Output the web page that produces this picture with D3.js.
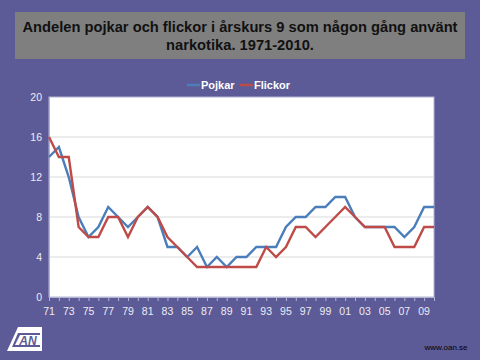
<!DOCTYPE html>
<html>
<head>
<meta charset="utf-8">
<script src="https://cdn.jsdelivr.net/npm/d3@7/dist/d3.min.js"></script>
<style>
  html, body { margin: 0; padding: 0; background: #5d5b97; }
  svg { display: block; }
</style>
</head>
<body>
<svg id="chart" width="480" height="360"></svg>
<script>
const titleLines = ["Andelen pojkar och flickor i årskurs 9 som någon gång använt", "narkotika. 1971-2010."];
const years = [1971,1972,1973,1974,1975,1976,1977,1978,1979,1980,1981,1982,1983,1984,1985,1986,1987,1988,1989,1990,
               1991,1992,1993,1994,1995,1996,1997,1998,1999,2000,2001,2002,2003,2004,2005,2006,2007,2008,2009,2010];
const pojkar = [14,15,12,8,6,7,9,8,7,8,9,8,5,5,4,5,3,4,3,4,4,5,5,5,7,8,8,9,9,10,10,8,7,7,7,7,6,7,9,9];
const flickor = [16,14,14,7,6,6,8,8,6,8,9,8,6,5,4,3,3,3,3,3,3,3,5,4,5,7,7,6,7,8,9,8,7,7,7,5,5,5,7,7];
const xTickYears = [1971,1973,1975,1977,1979,1981,1983,1985,1987,1989,1991,1993,1995,1997,1999,2001,2003,2005,2007,2009];
const xTickLabels = ["71","73","75","77","79","81","83","85","87","89","91","93","95","97","99","01","03","05","07","09"];
const yTicks = [0,4,8,12,16,20];
const seriesNames = ["Pojkar","Flickor"];
const seriesColors = ["#4a7ebb","#be4b48"];

const svg = d3.select("#chart");
const font = "'Liberation Sans', Arial, sans-serif";

// Title box
svg.append("rect").attr("x",15).attr("y",12).attr("width",450).attr("height",47).attr("fill","#7f7f7f");
const titleY = [32, 50];
titleLines.forEach((t,i) => {
  svg.append("text").attr("x",240).attr("y",titleY[i]).attr("text-anchor","middle")
    .attr("font-family",font).attr("font-weight","bold").attr("font-size",14.7).attr("fill","#111")
    .text(t);
});

const L = 49, R = 434, T = 97, B = 297;
const x = d3.scaleLinear().domain([1971,2010]).range([L,R]);
const y = d3.scaleLinear().domain([0,20]).range([B,T]);

// Plot area
svg.append("rect").attr("x",L).attr("y",T).attr("width",R-L).attr("height",B-T)
  .attr("fill","#fff").attr("stroke","#b4b4d4").attr("stroke-width",1);

// Gridlines
svg.append("g").selectAll("line").data(yTicks.filter(d => d>0 && d<20)).join("line")
  .attr("x1",L).attr("x2",R).attr("y1",d=>y(d)).attr("y2",d=>y(d))
  .attr("stroke","#d9d9d9").attr("stroke-width",1.2);

// Y axis
const yAxis = d3.axisLeft(y).tickValues(yTicks).tickSize(0).tickPadding(7);
const gy = svg.append("g").attr("transform",`translate(${L},0)`).call(yAxis);
gy.select(".domain").attr("stroke","#b4b4d4");
gy.selectAll("text").attr("font-family",font).attr("font-size",10.5).attr("fill","#ececf4");

// X axis
const xAxis = d3.axisBottom(x).tickValues(years).tickSize(4).tickFormat("");
const gx = svg.append("g").attr("transform",`translate(0,${B})`).call(xAxis);
gx.select(".domain").attr("stroke","#b4b4d4");
gx.selectAll(".tick line").attr("stroke","#b4b4d4");
svg.append("g").selectAll("text").data(xTickYears).join("text")
  .attr("x",d=>x(d)).attr("y",315).attr("text-anchor","middle")
  .attr("font-family",font).attr("font-size",10.5).attr("fill","#ececf4")
  .text((d,i)=>xTickLabels[i]);

// Lines (Pojkar first, Flickor on top)
const line = d3.line().x((d,i)=>x(years[i])).y(d=>y(d));
[pojkar, flickor].forEach((vals, k) => {
  svg.append("path").datum(vals).attr("d",line).attr("fill","none")
    .attr("stroke",seriesColors[k]).attr("stroke-width",2.4).attr("stroke-linejoin","miter");
});

// Legend
const legendX = [187, 240];
seriesNames.forEach((n,i) => {
  svg.append("line").attr("x1",legendX[i]).attr("x2",legendX[i]+13).attr("y1",85).attr("y2",85)
    .attr("stroke",seriesColors[i]).attr("stroke-width",2.4);
  svg.append("text").attr("x",legendX[i]+14).attr("y",89).attr("font-family",font)
    .attr("font-weight","bold").attr("font-size",11).attr("fill","#fff").text(n);
});

// Logo
svg.append("path").attr("d","M18,327 L42,327 L42,351 L7,351 Z").attr("fill","#fff");
svg.append("path").attr("d","M18,333 L40,333 L40,347 L12,347 Z").attr("fill","#5d5b97");
svg.append("path").attr("d","M20,335 L40,335 L40,345 L15,345 Z").attr("fill","#fff");
svg.append("text").attr("x",28).attr("y",345).attr("text-anchor","middle").attr("font-family",font)
  .attr("font-weight","bold").attr("font-style","italic").attr("font-size",12).attr("fill","#5d5b97").text("AN");

// Footer
svg.append("text").attr("x",446).attr("y",350).attr("text-anchor","middle").attr("font-family",font)
  .attr("font-size",8).attr("fill","#000").text("www.oan.se");
</script>
</body>
</html>
